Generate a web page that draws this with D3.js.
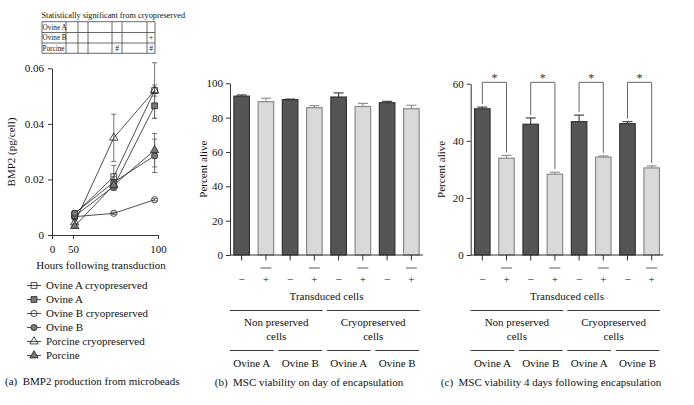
<!DOCTYPE html>
<html><head><meta charset="utf-8">
<script src="https://cdn.jsdelivr.net/npm/d3@7"></script>
<style>
body{margin:0;background:#fff;}
svg{display:block;}
svg text{font-family:"Liberation Serif","DejaVu Serif",serif;}
</style></head>
<body><svg id="c" width="694" height="405"></svg>
<script>
// ---------- Data ----------
const hours = [51, 74, 98];
const seriesNames = ["Ovine A cryopreserved","Ovine A","Ovine B cryopreserved","Ovine B","Porcine cryopreserved","Porcine"];
const ovineACryo = [0.0075, 0.021, 0.052];
const ovineACryoErr = [0.001, 0.004, 0.010];
const ovineA = [0.0068, 0.0175, 0.0465];
const ovineAErr = [0.001, 0.0015, 0.0045];
const ovineBCryo = [0.0066, 0.0078, 0.0127];
const ovineBCryoErr = [0.0004, 0.0004, 0.0004];
const ovineB = [0.0078, 0.019, 0.0285];
const ovineBErr = [0.001, 0.002, 0.006];
const porcineCryo = [0.0045, 0.035, 0.052];
const porcineCryoErr = [0.0008, 0.0085, 0.002];
const porcine = [0.0032, 0.018, 0.0305];
const porcineErr = [0.0008, 0.002, 0.006];
const xTicksA = [0, 50, 100];
const yTicksA = [0, 0.02, 0.04, 0.06];

const tableTitle = "Statistically significant from cryopreserved";
const tableRows = ["Ovine A", "Ovine B", "Porcine"];
const tableMarks = [["","","","","",""],["","","","","","+"],["","","","#","","#"]];

const barKeys = ["a","b","c","d","e","f","g","h"];
const transduced = ["\u2212","+","\u2212","+","\u2212","+","\u2212","+"];
const viabilityDay0 = [92.5, 89.3, 90.5, 85.8, 92.0, 86.5, 88.7, 85.2];
const viabilityDay0Err = [0.7, 2.0, 0.3, 1.2, 2.4, 1.8, 0.8, 2.0];
const viabilityDay4 = [51.2, 33.9, 45.8, 28.3, 46.7, 34.3, 46.0, 30.5];
const viabilityDay4Err = [0.6, 1.0, 2.2, 0.7, 2.3, 0.4, 0.7, 0.7];
const preservation = [["Non preserved","cells"],["Cryopreserved","cells"]];
const cellLines = ["Ovine A","Ovine B","Ovine A","Ovine B"];
const sigPairs = [[0,1],[2,3],[4,5],[6,7]];
const yTicksB = [0,20,40,60,80,100];
const yTicksC = [0,20,40,60];

const svg = d3.select("#c");
const FS = 11;
const FF = "Liberation Serif, DejaVu Serif, serif";

// ---------- Panel (a) ----------
const xA = d3.scaleLinear().domain([0,50,100]).range([52,73,158]);
const yA = d3.scaleLinear().domain([0,0.06]).range([235,68.3]);

const gA = svg.append("g").attr("font-family",FF);
const axA = gA.append("g").attr("transform","translate(0,235)")
  .call(d3.axisBottom(xA).tickValues(xTicksA).tickSize(4).tickPadding(6).tickSizeOuter(0));
const ayA = gA.append("g").attr("transform","translate(52,0)")
  .call(d3.axisLeft(yA).tickValues(yTicksA).tickSize(4).tickPadding(4).tickSizeOuter(0)
    .tickFormat(d => d===0 ? "0" : d3.format(".2f")(d)));
[axA, ayA].forEach(a => {
  a.attr("font-family",FF);
  a.selectAll("text").attr("font-size",FS).attr("fill","#111");
  a.selectAll("line,path").attr("stroke","#333");
});
gA.append("text").attr("transform","translate(15,152) rotate(-90)").attr("text-anchor","middle")
  .attr("font-size",FS).attr("fill","#111").text("BMP2 (pg/cell)");
gA.append("text").attr("x",101).attr("y",269).attr("text-anchor","middle")
  .attr("font-size",FS).attr("fill","#111").text("Hours following transduction");

const series = [
  {name:seriesNames[0], v:ovineACryo, e:ovineACryoErr, shape:"square", fill:"none"},
  {name:seriesNames[1], v:ovineA, e:ovineAErr, shape:"square", fill:"#777"},
  {name:seriesNames[2], v:ovineBCryo, e:ovineBCryoErr, shape:"circle", fill:"none"},
  {name:seriesNames[3], v:ovineB, e:ovineBErr, shape:"circle", fill:"#777"},
  {name:seriesNames[4], v:porcineCryo, e:porcineCryoErr, shape:"triangle", fill:"none"},
  {name:seriesNames[5], v:porcine, e:porcineErr, shape:"triangle", fill:"#777"}
];
const symType = {square:d3.symbolSquare, circle:d3.symbolCircle, triangle:d3.symbolTriangle};
const symSize = {square:34, circle:30, triangle:30};
const line = d3.line().x((d,i)=>xA(hours[i])).y(d=>yA(d));

series.forEach(s => {
  s.v.forEach((v,i) => {
    const x = xA(hours[i]);
    gA.append("line").attr("x1",x).attr("x2",x).attr("y1",yA(v-s.e[i])).attr("y2",yA(v+s.e[i]))
      .attr("stroke","#666").attr("stroke-width",0.9);
    [v-s.e[i], v+s.e[i]].forEach(w => gA.append("line").attr("x1",x-2.5).attr("x2",x+2.5)
      .attr("y1",yA(w)).attr("y2",yA(w)).attr("stroke","#666").attr("stroke-width",0.9));
  });
});
series.forEach(s => {
  gA.append("path").datum(s.v).attr("d",line).attr("fill","none").attr("stroke","#222").attr("stroke-width",0.8);
});
series.forEach(s => {
  s.v.forEach((v,i) => {
    gA.append("path").attr("d",d3.symbol().type(symType[s.shape]).size(symSize[s.shape])())
      .attr("transform",`translate(${xA(hours[i])},${yA(v)})`)
      .attr("fill",s.fill).attr("stroke","#222").attr("stroke-width",0.8);
  });
});
// legend
series.forEach((s,i) => {
  const y = 285.5 + i*14;
  const g = gA.append("g").attr("transform",`translate(34,${y})`);
  g.append("line").attr("x1",-7).attr("x2",7).attr("stroke","#222").attr("stroke-width",0.8);
  g.append("path").attr("d",d3.symbol().type(symType[s.shape]).size(symSize[s.shape])())
    .attr("fill",s.fill).attr("stroke","#222").attr("stroke-width",0.8);
  g.append("text").attr("x",12).attr("y",3.8).attr("font-size",FS).attr("fill","#111").text(s.name);
});
gA.append("text").attr("x",5).attr("y",385).attr("font-size",FS).attr("fill","#111")
  .attr("xml:space","preserve").text("(a)  BMP2 production from microbeads");

// significance table
const colX = [42,66,78,88,112,122,147,155];
const rowY = [21.7,32.5,43,53.3];
const gT = svg.append("g").attr("font-family",FF);
gT.append("text").attr("x",41.5).attr("y",18).attr("font-size",8.3).attr("fill","#111").text(tableTitle);
colX.forEach(x => gT.append("line").attr("x1",x).attr("x2",x).attr("y1",rowY[0]).attr("y2",rowY[3]).attr("stroke","#444").attr("stroke-width",0.8));
rowY.forEach(y => gT.append("line").attr("x1",colX[0]).attr("x2",colX[colX.length-1]).attr("y1",y).attr("y2",y).attr("stroke","#444").attr("stroke-width",0.8));
tableRows.forEach((r,i) => {
  const yc = (rowY[i]+rowY[i+1])/2;
  gT.append("text").attr("x",42.5).attr("y",yc+2.5).attr("font-size",7.2).attr("fill","#111").text(r);
  tableMarks[i].forEach((m,j) => {
    if (!m) return;
    gT.append("text").attr("x",(colX[j+1]+colX[j+2])/2).attr("y",yc+2.6).attr("text-anchor","middle")
      .attr("font-size",7.5).attr("fill","#222").text(m);
  });
});

// ---------- Bar panels ----------
function barPanel(opt) {
  const g = svg.append("g").attr("font-family",FF);
  const x = d3.scaleBand().domain(barKeys).range([opt.x0,opt.x1]).paddingInner(0.36).paddingOuter(0.16);
  const y = d3.scaleLinear().domain([0,opt.max]).range([255,opt.yTop]);
  const bw = x.bandwidth();
  opt.values.forEach((v,i) => {
    const dark = i%2===0;
    const k = barKeys[i];
    const col = dark ? "#333" : "#8a8a8a";
    g.append("line").attr("x1",x(k)+bw/2).attr("x2",x(k)+bw/2).attr("y1",y(v)).attr("y2",y(v+opt.errs[i]))
      .attr("stroke",col).attr("stroke-width",1.1);
    g.append("line").attr("x1",x(k)+bw/2-5).attr("x2",x(k)+bw/2+5).attr("y1",y(v+opt.errs[i])).attr("y2",y(v+opt.errs[i]))
      .attr("stroke",col).attr("stroke-width",1.1);
    g.append("rect").attr("x",x(k)).attr("y",y(v)).attr("width",bw).attr("height",y(0)-y(v))
      .attr("fill",dark ? "#555" : "#d9d9d9").attr("stroke",col).attr("stroke-width",1.2);
  });
  const ay = g.append("g").attr("transform",`translate(${opt.x0},0)`)
    .call(d3.axisLeft(y).tickValues(opt.ticks).tickSize(4).tickPadding(3).tickSizeOuter(0));
  ay.attr("font-family",FF);
  ay.selectAll("text").attr("font-size",FS).attr("fill","#111");
  ay.selectAll("line,path").attr("stroke","#333");
  g.append("line").attr("x1",opt.x0).attr("x2",opt.x1).attr("y1",255).attr("y2",255).attr("stroke","#333");
  g.append("text").attr("transform",`translate(${opt.yLabX},${(255+opt.yTop)/2}) rotate(-90)`)
    .attr("text-anchor","middle").attr("font-size",FS).attr("fill","#111").text("Percent alive");
  barKeys.forEach((k,i) => {
    const cx = x(k)+bw/2;
    g.append("line").attr("x1",cx).attr("x2",cx).attr("y1",255).attr("y2",260.5).attr("stroke","#333");
    if (i%2===1) g.append("line").attr("x1",cx-5.5).attr("x2",cx+5.5).attr("y1",268).attr("y2",268).attr("stroke","#333").attr("stroke-width",0.8);
    g.append("text").attr("x",cx).attr("y",283).attr("text-anchor","middle").attr("font-size",FS).attr("fill","#111").text(transduced[i]);
  });
  const mid = (opt.x0+opt.x1)/2;
  g.append("text").attr("x",mid).attr("y",300).attr("text-anchor","middle").attr("font-size",FS).attr("fill","#111").text("Transduced cells");
  preservation.forEach((p,j) => {
    const a = x(barKeys[j*4])-4, b = x(barKeys[j*4+3])+bw+0.5;
    g.append("line").attr("x1",a).attr("x2",b).attr("y1",310.5).attr("y2",310.5).attr("stroke","#222").attr("stroke-width",0.9);
    p.forEach((t,r) => g.append("text").attr("x",(a+b)/2).attr("y",325.5+r*14.5).attr("text-anchor","middle")
      .attr("font-size",FS).attr("fill","#111").text(t));
  });
  cellLines.forEach((c,j) => {
    const a = x(barKeys[j*2])-4, b = x(barKeys[j*2+1])+bw;
    g.append("line").attr("x1",a).attr("x2",b).attr("y1",350.5).attr("y2",350.5).attr("stroke","#222").attr("stroke-width",0.9);
    g.append("text").attr("x",(a+b)/2).attr("y",366.5).attr("text-anchor","middle").attr("font-size",FS).attr("fill","#111").text(c);
  });
  g.append("text").attr("x",opt.capX).attr("y",386).attr("text-anchor","middle").attr("font-size",FS)
    .attr("fill","#111").attr("xml:space","preserve").text(opt.caption);
  return {g,x,y,bw};
}

barPanel({x0:230,x1:423,yTop:83.3,max:100,ticks:yTicksB,values:viabilityDay0,errs:viabilityDay0Err,
  yLabX:207,capX:309,caption:"(b)  MSC viability on day of encapsulation"});
const pc = barPanel({x0:470.7,x1:663.3,yTop:83.7,max:60,ticks:yTicksC,values:viabilityDay4,errs:viabilityDay4Err,
  yLabX:445,capX:551,caption:"(c)  MSC viability 4 days following encapsulation"});

sigPairs.forEach(([a,b]) => {
  const xa = pc.x(barKeys[a])+pc.bw/2, xb = pc.x(barKeys[b])+pc.bw/2;
  const top = 82.3;
  const ya = pc.y(viabilityDay4[a]+viabilityDay4Err[a])-3;
  const yb = pc.y(viabilityDay4[b]+viabilityDay4Err[b])-3;
  pc.g.append("path").attr("d",`M${xa},${ya}V${top}H${xb}V${yb}`).attr("fill","none")
    .attr("stroke","#666").attr("stroke-width",1);
  pc.g.append("text").attr("x",(xa+xb)/2).attr("y",82).attr("text-anchor","middle").attr("font-size",12)
    .attr("fill","#333").text("*");
});
</script></body></html>
